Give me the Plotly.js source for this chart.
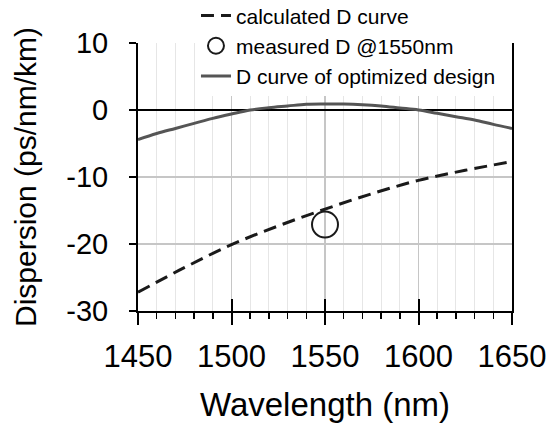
<!DOCTYPE html>
<html>
<head>
<meta charset="utf-8">
<script src="https://cdn.plot.ly/plotly-3.0.1.min.js"></script>
<style>html,body{margin:0;padding:0;background:#fff;}#chart{width:549px;height:423px;}</style>
</head>
<body>
<div id="chart"></div>
<script>
// Calculated D curve
const calcWavelength = [1450, 1475, 1500, 1525, 1550, 1575, 1600, 1625, 1650];
const calcDispersion = [-27.2, -23.5, -20.1, -17.3, -14.8, -12.5, -10.5, -9.0, -7.7];

// Measured D @1550nm
const measWavelength = [1550];
const measDispersion = [-17.1];

// D curve of optimized design
const optWavelength = [1450, 1460, 1470, 1480, 1490, 1500, 1510, 1520, 1530, 1540, 1550,
                       1560, 1570, 1580, 1590, 1600, 1610, 1620, 1630, 1640, 1650];
const optDispersion = [-4.4, -3.5, -2.75, -2.0, -1.25, -0.6, 0.0, 0.35, 0.6, 0.85, 0.9,
                       0.9, 0.8, 0.6, 0.3, 0.0, -0.5, -1.0, -1.5, -2.15, -2.75];

const seriesNames = ["calculated D curve", "measured D @1550nm", "D curve of optimized design"];
const xTickVals = [1450, 1500, 1550, 1600, 1650];
const yTickVals = [-30, -20, -10, 0, 10];

const FONT = "Liberation Sans, Arial, sans-serif";

const traces = [
  {
    x: calcWavelength, y: calcDispersion, name: seriesNames[0],
    type: "scatter", mode: "lines",
    line: {color: "#1a1a1a", width: 3, dash: "13px,7px", shape: "spline"}
  },
  {
    x: measWavelength, y: measDispersion, name: seriesNames[1],
    type: "scatter", mode: "markers",
    marker: {symbol: "circle-open", size: 26, color: "#1a1a1a", line: {width: 2, color: "#1a1a1a"}}
  },
  {
    x: optWavelength, y: optDispersion, name: seriesNames[2],
    type: "scatter", mode: "lines",
    line: {color: "#555555", width: 3, shape: "spline"}
  },
  {
    x: [], y: [], xaxis: "x2", yaxis: "y", showlegend: false, hoverinfo: "skip", type: "scatter"
  }
];

const layout = {
  width: 549, height: 423,
  margin: {l: 138, r: 37, t: 43, b: 112, autoexpand: false},
  paper_bgcolor: "#ffffff", plot_bgcolor: "#ffffff",
  font: {family: FONT, color: "#000000"},
  showlegend: true,
  legend: {
    x: 0.155, xanchor: "left", y: 1.178, yanchor: "top",
    bgcolor: "#ffffff", borderwidth: 0,
    font: {family: FONT, size: 21, color: "#000000"},
    tracegroupgap: 0
  },
  xaxis: {
    range: [1450, 1650], tickvals: xTickVals, ticktext: xTickVals.map(String),
    ticks: "outside", ticklen: 12, tickwidth: 2, tickcolor: "#000",
    showline: true, linewidth: 2, linecolor: "#000", mirror: false,
    showgrid: true, gridcolor: "#c6c6c6", gridwidth: 1.5,
    zeroline: false,
    minor: {dtick: 10, ticks: "outside", ticklen: 6, tickwidth: 1.5, tickcolor: "#000",
            showgrid: true, gridcolor: "#e6e6e6", gridwidth: 1},
    tickfont: {family: FONT, size: 31, color: "#000"},
    ticklabelstandoff: 5,
    title: {text: "Wavelength (nm)", font: {family: FONT, size: 33, color: "#000"}, standoff: 24},
    automargin: false
  },
  xaxis2: {
    overlaying: "x", anchor: "y", side: "bottom",
    range: [1450, 1650], tickvals: xTickVals,
    ticks: "inside", ticklen: 12, tickwidth: 2, tickcolor: "#000",
    showticklabels: false, showgrid: false, showline: false, zeroline: false
  },
  yaxis: {
    range: [-30, 10], tickvals: yTickVals, ticktext: yTickVals.map(String),
    ticks: "outside", ticklen: 7, tickwidth: 2, tickcolor: "#000",
    showline: true, linewidth: 2, linecolor: "#000", mirror: true,
    showgrid: true, gridcolor: "#c6c6c6", gridwidth: 1.5,
    zeroline: true, zerolinecolor: "#000", zerolinewidth: 2.5,
    tickfont: {family: FONT, size: 29, color: "#000"},
    ticklabelstandoff: 15,
    title: {text: "Dispersion (ps/nm/km)", font: {family: FONT, size: 30, color: "#000"}, standoff: 21},
    automargin: false
  }
};

Plotly.newPlot("chart", traces, layout, {staticPlot: true, displayModeBar: false});
</script>
</body>
</html>
